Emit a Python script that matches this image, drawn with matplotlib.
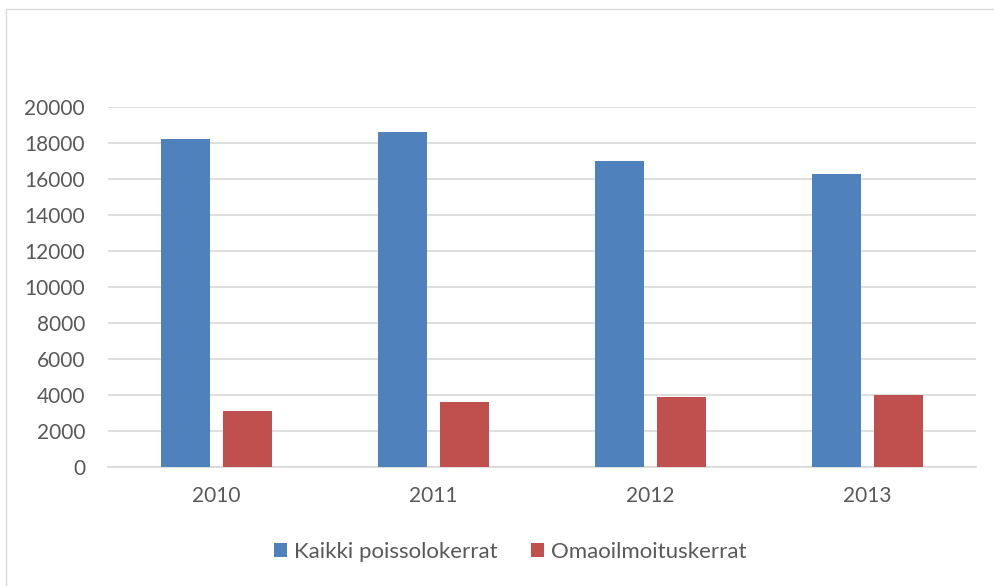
import numpy as np
import matplotlib.pyplot as plt
from matplotlib.patches import Rectangle

years = ['2010', '2011', '2012', '2013']
kaikki = [18200, 18600, 17000, 16300]
omaoilmoitus = [3100, 3600, 3900, 4000]
series_names = ['Kaikki poissolokerrat', 'Omaoilmoituskerrat']
yticks = list(range(0, 20001, 2000))

W, H = 995, 586
fig = plt.figure(figsize=(W / 100, H / 100), dpi=100)
plt.rcParams['font.family'] = ['Lato', 'DejaVu Sans']

# chart area border (cut off at right and bottom)
fig.patches.append(Rectangle((6.5 / W, -0.1), 1.2, 1.1 - 8.5 / H,
                             transform=fig.transFigure, fill=False,
                             ec='#d9d9d9', lw=1.0))

ax = fig.add_axes([108 / W, 1 - 467 / H, (976 - 108) / W, (467 - 107) / H])
x = np.arange(len(years))
bw = 0.228
off = 0.142
ax.bar(x - off, kaikki, bw, color='#4F81BD', label=series_names[0], zorder=3)
ax.bar(x + off, omaoilmoitus, bw, color='#C0504D', label=series_names[1], zorder=3)

ax.set_xlim(-0.5, len(years) - 0.5)
ax.set_ylim(0, 20000)
ax.set_yticks(yticks)
ax.set_yticklabels([str(v) for v in yticks])
ax.set_xticks(x)
ax.set_xticklabels(years)
ax.grid(axis='y', color='#d9d9d9', lw=1.2, zorder=0)
for s in ['top', 'right', 'left']:
    ax.spines[s].set_visible(False)
ax.spines['bottom'].set_color('#d9d9d9')
ax.spines['bottom'].set_linewidth(1.2)
ax.tick_params(axis='both', length=0, colors='#595959', labelsize=15)
ax.tick_params(axis='y', pad=16.5)
ax.tick_params(axis='x', pad=14)

leg = fig.legend(loc='center', bbox_to_anchor=(510 / W, 1 - 552 / H), ncol=2,
                 frameon=False, fontsize=16, handlelength=0.6, handleheight=0.6,
                 handletextpad=0.3, columnspacing=1.5)
for t in leg.get_texts():
    t.set_color('#595959')

fig.savefig('out.png', dpi=100)
